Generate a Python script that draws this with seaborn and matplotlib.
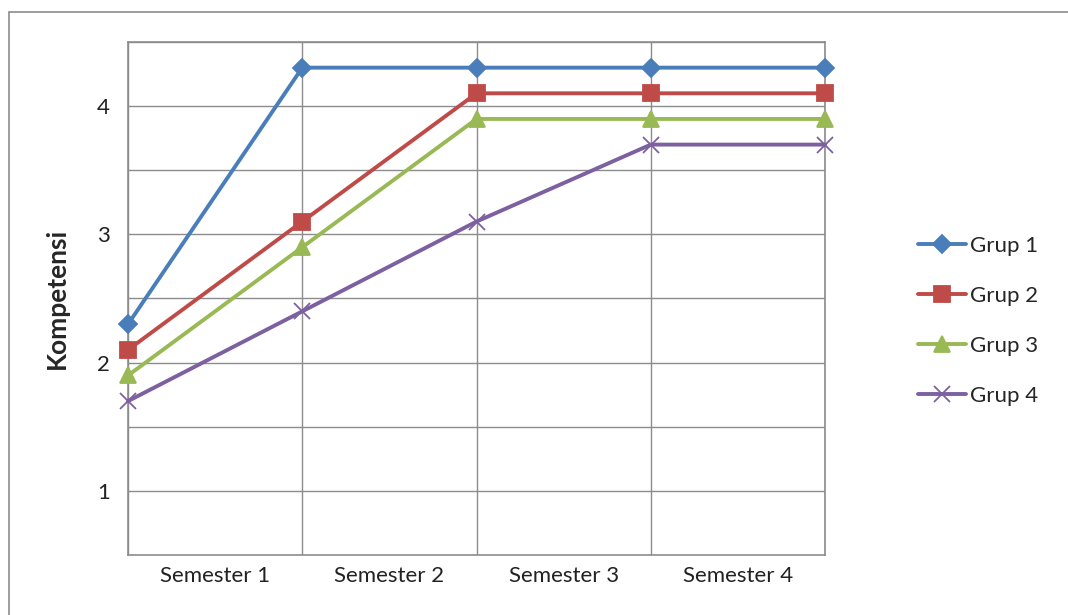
import pandas as pd
import seaborn as sns
import matplotlib.pyplot as plt
from matplotlib.patches import Rectangle

# data
points = [0, 1, 2, 3, 4]
semesters = ["Semester 1", "Semester 2", "Semester 3", "Semester 4"]
grup1 = [2.3, 4.3, 4.3, 4.3, 4.3]
grup2 = [2.1, 3.1, 4.1, 4.1, 4.1]
grup3 = [1.9, 2.9, 3.9, 3.9, 3.9]
grup4 = [1.7, 2.4, 3.1, 3.7, 3.7]
groups = ["Grup 1", "Grup 2", "Grup 3", "Grup 4"]

colors = ["#4A7EBB", "#BE4B48", "#98B954", "#7D60A0"]
markers = ["D", "s", "^", "x"]
msizes = [9, 12, 12, 12]

sns.set_style("white")
plt.rcParams["font.family"] = ["Lato", "DejaVu Sans"]

fig = plt.figure(figsize=(10.68, 6.15), dpi=100)
ax = fig.add_axes([0.1199, 0.0976, 0.6526, 0.8341])

for name, vals, c, m, ms in zip(groups, [grup1, grup2, grup3, grup4], colors, markers, msizes):
    d = pd.DataFrame({"x": points, "nilai": vals})
    sns.lineplot(data=d, x="x", y="nilai", color=c, marker=m, markersize=ms,
                 markeredgecolor=c, markeredgewidth=1.3, linewidth=2.8,
                 label=name, ax=ax, clip_on=False, zorder=3)

ax.set_xlim(0, 4)
ax.set_ylim(0.5, 4.5)
ax.set_yticks([1, 1.5, 2, 2.5, 3, 3.5, 4, 4.5])
ax.set_yticklabels(["1", "", "2", "", "3", "", "4", ""])
ax.set_xticks(points)
ax.set_xticklabels([""] * len(points))
ax.set_xticks([0.5, 1.5, 2.5, 3.5], minor=True)
ax.set_xticklabels(semesters, minor=True)
ax.tick_params(axis="both", which="both", length=0, labelsize=16, colors="#222222")
ax.tick_params(axis="y", pad=13)
ax.tick_params(axis="x", which="minor", pad=8)
ax.grid(True, which="major", color="#8c8c8c", linewidth=1)
for s in ax.spines.values():
    s.set_color("#8c8c8c")
    s.set_linewidth(1.2)

ax.set_xlabel("")
ax.set_ylabel("Kompetensi", fontsize=19, fontweight="bold", labelpad=20)

ax.legend(loc="center left", bbox_to_anchor=(1.104, 0.457), frameon=False,
          fontsize=16, handlelength=2.2, handletextpad=0.15, labelspacing=1.35)

# outer chart border
fig.patches.append(Rectangle((9 / 1068, -0.05), 1.1, 1 - 12 / 615 + 0.05,
                             transform=fig.transFigure, fill=False,
                             edgecolor="#8c8c8c", linewidth=1.2))

fig.savefig("out.png", dpi=100)
